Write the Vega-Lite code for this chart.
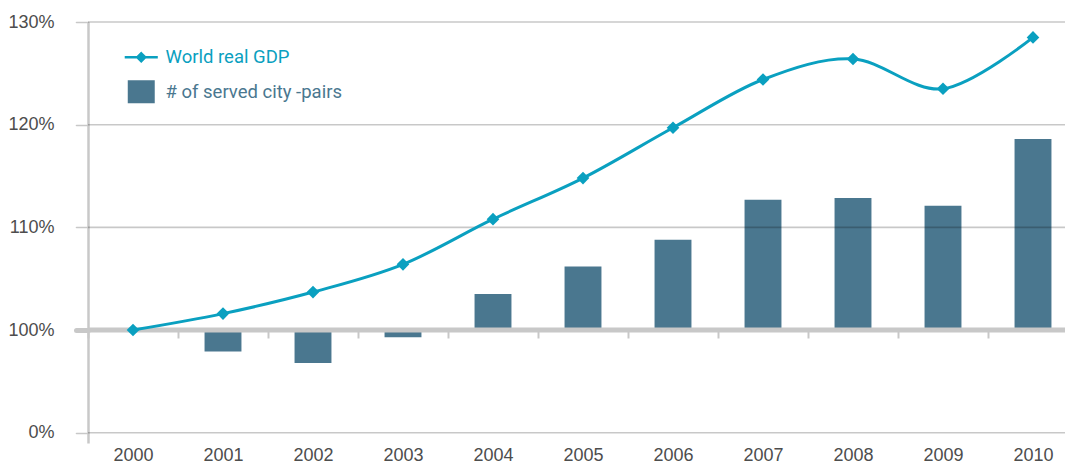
{
  "$schema": "https://vega.github.io/schema/vega-lite/v6.json",
  "width": 977,
  "height": 421,
  "autosize": {"type": "none"},
  "padding": {"left": 88, "top": 22, "right": 0, "bottom": 23},
  "background": "white",
  "config": {"view": {"stroke": null}, "font": "Liberation Sans"},
  "datasets": {
    "gdp": [
      {"year": "2000", "value": 100, "series": "World real GDP"},
      {"year": "2001", "value": 101.6, "series": "World real GDP"},
      {"year": "2002", "value": 103.7, "series": "World real GDP"},
      {"year": "2003", "value": 106.4, "series": "World real GDP"},
      {"year": "2004", "value": 110.8, "series": "World real GDP"},
      {"year": "2005", "value": 114.8, "series": "World real GDP"},
      {"year": "2006", "value": 119.7, "series": "World real GDP"},
      {"year": "2007", "value": 124.4, "series": "World real GDP"},
      {"year": "2008", "value": 126.4, "series": "World real GDP"},
      {"year": "2009", "value": 123.5, "series": "World real GDP"},
      {"year": "2010", "value": 128.5, "series": "World real GDP"}
    ],
    "pairs": [
      {"year": "2000", "value": 100, "series": "# of served city -pairs"},
      {"year": "2001", "value": 97.9, "series": "# of served city -pairs"},
      {"year": "2002", "value": 96.8, "series": "# of served city -pairs"},
      {"year": "2003", "value": 99.3, "series": "# of served city -pairs"},
      {"year": "2004", "value": 103.5, "series": "# of served city -pairs"},
      {"year": "2005", "value": 106.2, "series": "# of served city -pairs"},
      {"year": "2006", "value": 108.8, "series": "# of served city -pairs"},
      {"year": "2007", "value": 112.7, "series": "# of served city -pairs"},
      {"year": "2008", "value": 112.85, "series": "# of served city -pairs"},
      {"year": "2009", "value": 112.1, "series": "# of served city -pairs"},
      {"year": "2010", "value": 118.6, "series": "# of served city -pairs"}
    ],
    "grid": [
      {"level": 90}, {"level": 100}, {"level": 110}, {"level": 120}, {"level": 130}
    ]
  },
  "layer": [
    {
      "data": {"name": "pairs"},
      "mark": {"type": "bar", "width": {"band": 0.41}},
      "encoding": {
        "x": {
          "field": "year", "type": "ordinal",
          "scale": {"range": [0, 990], "paddingInner": 0, "paddingOuter": 0},
          "axis": {
            "title": null, "offset": -113, "domain": false, "tickBand": "extent",
            "tickSize": 8, "tickWidth": 2, "tickColor": "#c8c8c8",
            "labelPadding": 108, "labelAngle": 0, "labelFontSize": 18,
            "labelColor": "#4d4d4d", "grid": false
          }
        },
        "y": {
          "field": "value", "type": "quantitative",
          "scale": {"domain": [89, 130], "nice": false, "zero": false},
          "axis": {
            "title": null, "values": [90, 100, 110, 120, 130],
            "labelExpr": "datum.value == 90 ? '0%' : datum.value + '%'",
            "grid": false, "domainColor": "#c8c8c8", "domainWidth": 2.5,
            "tickColor": "#c8c8c8", "tickSize": 12,
            "tickWidth": {"condition": {"test": "datum.value == 100", "value": 5}, "value": 1.6},
            "tickCap": "round",
            "labelPadding": 22, "labelFontSize": 18, "labelColor": "#4d4d4d"
          }
        },
        "y2": {"datum": 100},
        "color": {
          "field": "series", "type": "nominal",
          "scale": {"domain": ["World real GDP", "# of served city -pairs"], "range": ["#0aa0c0", "#4a778f"]},
          "legend": {
            "title": null, "orient": "none", "legendX": 44, "legendY": 26,
            "symbolSize": 700, "rowPadding": 12.5, "labelOffset": 15,
            "labelFont": "Roboto", "labelFontSize": 18.5, "labelLimit": 400,
            "encode": {
              "symbols": {
                "update": {
                  "shape": {"signal": "datum.value === 'World real GDP' ? 'M-1.25,0L1.25,0M0,-0.3L0.3,0L0,0.3L-0.3,0Z' : 'M-1.02,-0.87L1.02,-0.87L1.02,0.87L-1.02,0.87Z'"},
                  "strokeWidth": {"signal": "datum.value === 'World real GDP' ? 2.5 : 0"},
                  "stroke": {"signal": "datum.value === 'World real GDP' ? '#0aa0c0' : 'transparent'"},
                  "fill": {"signal": "datum.value === 'World real GDP' ? '#0aa0c0' : '#4a778f'"},
                  "opacity": {"value": 1}
                }
              },
              "labels": {
                "update": {
                  "fill": {"signal": "datum.value === 'World real GDP' ? '#0aa0c0' : '#4a778f'"}
                }
              }
            }
          }
        }
      }
    },
    {
      "data": {"name": "grid"},
      "mark": {"type": "rule"},
      "encoding": {
        "y": {"field": "level", "type": "quantitative", "scale": {"domain": [89, 130], "nice": false, "zero": false}},
        "color": {"condition": {"test": "datum.level == 100", "value": "#c8c8c8"}, "value": "#000000"},
        "opacity": {"condition": {"test": "datum.level == 100", "value": 1}, "value": 0.216},
        "strokeWidth": {"condition": {"test": "datum.level == 100", "value": 5}, "value": 1.6}
      }
    },
    {
      "data": {"name": "gdp"},
      "mark": {"type": "line", "interpolate": "cardinal", "strokeWidth": 3},
      "encoding": {
        "x": {"field": "year", "type": "ordinal"},
        "y": {"field": "value", "type": "quantitative", "scale": {"domain": [89, 130], "nice": false, "zero": false}},
        "color": {"field": "series", "type": "nominal", "legend": null}
      }
    },
    {
      "data": {"name": "gdp"},
      "mark": {"type": "point", "shape": "diamond", "filled": true, "size": 160, "opacity": 1},
      "encoding": {
        "x": {"field": "year", "type": "ordinal"},
        "y": {"field": "value", "type": "quantitative", "scale": {"domain": [89, 130], "nice": false, "zero": false}},
        "color": {"field": "series", "type": "nominal", "legend": null}
      }
    }
  ]
}
